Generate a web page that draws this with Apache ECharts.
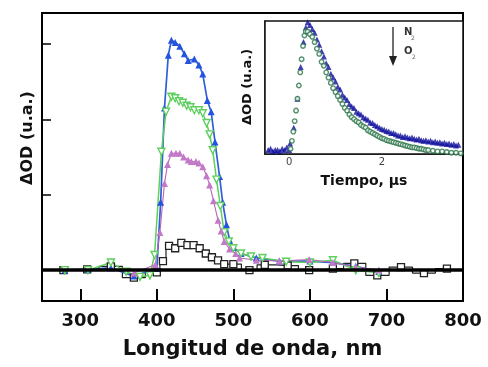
<!DOCTYPE html>
<html><head><meta charset="utf-8">
<script src="https://cdn.jsdelivr.net/npm/echarts@6/dist/echarts.min.js"></script>
<style>html,body{margin:0;padding:0;background:#fff}#c{width:488px;height:367px}</style>
</head><body><div id="c"></div>
<script>
// ---- main spectrum data (wavelength nm, ΔOD a.u.) ----
const xTickLabels = [300, 400, 500, 600, 700, 800];
const xTickMarks = [300, 400, 500, 600, 700];
const yTickMarks = [0, 1, 2, 3];
const blackSquares = [[278,0.0],[309,0.01],[340,0.05],[370,-0.1],[400,-0.03],[408,0.12],[416,0.32],[424,0.29],[432,0.36],[440,0.33],[448,0.33],[456,0.29],[464,0.22],[472,0.17],[480,0.13],[488,0.08],[500,0.08],[521,0.0],[541,0.07],[571,0.06],[599,0.0],[630,0.02],[658,0.09],[688,-0.07],[719,0.04],[749,-0.04],[779,0.02]];
const blueTri = [[280,0.0],[310,0.01],[340,0.03],[370,-0.08],[400,0.02],[405,0.9],[410,2.15],[415,2.85],[419,3.05],[424,3.02],[430,2.97],[436,2.87],[441,2.78],[449,2.8],[455,2.72],[460,2.6],[466,2.25],[471,2.1],[476,1.7],[482,1.24],[486,0.9],[491,0.6],[495,0.4],[500,0.3],[510,0.22],[530,0.16],[560,0.12],[600,0.12],[630,0.1],[660,0.05],[690,-0.02]];
const greenInvTri = [[280,0.0],[310,0.0],[340,0.1],[360,-0.02],[378,-0.09],[391,-0.07],[397,0.2],[406,1.57],[412,2.1],[419,2.3],[424,2.28],[429,2.24],[434,2.22],[439,2.18],[444,2.16],[449,2.12],[455,2.12],[460,2.08],[465,1.95],[469,1.8],[473,1.59],[478,1.2],[483,0.85],[488,0.5],[494,0.38],[500,0.29],[510,0.22],[523,0.18],[538,0.16],[569,0.11],[600,0.1],[630,0.13],[660,0.0],[690,-0.04]];
const purpleTri = [[370,-0.04],[398,0.07],[404,0.5],[410,1.15],[414,1.4],[419,1.55],[425,1.55],[430,1.55],[435,1.5],[441,1.46],[445,1.44],[451,1.44],[455,1.42],[460,1.37],[465,1.25],[469,1.13],[474,0.92],[480,0.66],[484,0.52],[488,0.38],[495,0.28],[503,0.22],[508,0.16],[530,0.13],[560,0.12],[599,0.14],[630,0.1],[660,0.04],[690,0.0]];

// ---- inset kinetics data (time µs, ΔOD a.u.) ----
const insetXTicks = [0, 2];
const insetYTicks = [0.5];
const kineticN2 = [[-0.45,0.03],[-0.4,0.04],[-0.35,0.02],[-0.3,0.03],[-0.25,0.03],[-0.2,0.02],[-0.15,0.04],[-0.1,0.03],[-0.05,0.05],[0,0.03],[0.02,0.08],[0.1,0.2],[0.18,0.42],[0.25,0.66],[0.31,0.85],[0.36,0.96],[0.4,1.0],
[0.45,0.98],[0.5,0.95],[0.55,0.92],[0.6,0.87],[0.65,0.83],[0.7,0.78],[0.75,0.74],[0.8,0.69],[0.85,0.66],[0.9,0.61],[0.95,0.58],[1.0,0.55],[1.05,0.51],[1.1,0.49],[1.15,0.45],[1.2,0.43],[1.25,0.41],[1.3,0.38],[1.35,0.36],[1.4,0.35],[1.45,0.32],[1.5,0.31],[1.55,0.3],[1.6,0.28],[1.65,0.27],[1.7,0.26],[1.75,0.24],[1.8,0.235],[1.85,0.22],[1.9,0.21],[1.95,0.2],[2.0,0.19],[2.05,0.185],[2.1,0.175],[2.15,0.17],[2.2,0.16],[2.25,0.16],[2.3,0.15],[2.35,0.14],[2.4,0.14],[2.45,0.13],[2.5,0.135],[2.55,0.125],[2.6,0.12],[2.65,0.125],[2.7,0.115],[2.75,0.11],[2.8,0.115],[2.85,0.105],[2.9,0.1],[2.95,0.105],[3.0,0.095],[3.05,0.1],[3.1,0.09],[3.15,0.095],[3.2,0.085],[3.25,0.09],[3.3,0.08],[3.35,0.085],[3.4,0.075],[3.45,0.08],[3.5,0.07],[3.55,0.075],[3.6,0.065],[3.65,0.07]];
const kineticO2 = [[0.03,0.04],[0.06,0.1],[0.09,0.17],[0.12,0.25],[0.15,0.33],[0.18,0.42],[0.21,0.52],[0.24,0.62],[0.27,0.72],[0.3,0.82],[0.33,0.9],[0.36,0.93],
[0.4,0.93],[0.45,0.91],[0.5,0.89],[0.55,0.85],[0.6,0.8],[0.65,0.76],[0.7,0.7],[0.75,0.67],[0.8,0.62],[0.85,0.58],[0.9,0.54],[0.95,0.5],[1.0,0.47],[1.05,0.44],[1.1,0.41],[1.15,0.38],[1.2,0.35],[1.25,0.33],[1.3,0.3],[1.35,0.28],[1.4,0.265],[1.45,0.25],[1.5,0.24],[1.55,0.22],[1.6,0.21],[1.65,0.2],[1.7,0.18],[1.75,0.17],[1.8,0.16],[1.85,0.15],[1.9,0.14],[1.95,0.13],[2.0,0.12],[2.05,0.115],[2.1,0.105],[2.15,0.1],[2.2,0.095],[2.25,0.09],[2.3,0.085],[2.35,0.08],[2.4,0.075],[2.45,0.07],[2.5,0.065],[2.55,0.06],[2.6,0.055],[2.65,0.05],[2.7,0.05],[2.75,0.045],[2.8,0.04],[2.85,0.04],[2.9,0.035],[2.95,0.03],[3.0,0.03],[3.1,0.025],[3.2,0.02],[3.3,0.02],[3.4,0.015],[3.5,0.01],[3.6,0.01],[3.7,0.005]];

const yMin = -0.41, yMax = 3.41;
const F = 'DejaVu Sans';
const tickSegments = xTickMarks.map(v => [{coord: [v, yMin]}, {coord: [v, yMin + 0.155]}]);
const chart = echarts.init(document.getElementById('c'), null, {renderer:'canvas'});
chart.setOption({
  animation: false,
  grid: [
    {left: 42, right: 25, top: 13, bottom: 66, show: true, borderColor: '#000', borderWidth: 2, backgroundColor: 'transparent'},
    {left: 265, right: 25, top: 21, bottom: 213, show: true, borderColor: '#111', borderWidth: 1.5, backgroundColor: '#fff', z: 5}
  ],
  xAxis: [
    {type: 'value', gridIndex: 0, position: 'bottom', min: 250, max: 800,
     axisLine: {show: true, onZero: false, lineStyle: {color: '#000', width: 2}},
     axisTick: {show: true, inside: true, length: 12, customValues: xTickMarks, lineStyle: {color: '#000', width: 1.8}},
     axisLabel: {show: true, customValues: xTickLabels, margin: 11, fontSize: 18, fontWeight: 'bold', fontFamily: F, color: '#111'},
     splitLine: {show: false},
     name: 'Longitud de onda, nm', nameLocation: 'middle', nameGap: 38,
     nameTextStyle: {fontSize: 21, fontWeight: 'bold', fontFamily: F, color: '#111'}},
    {type: 'value', gridIndex: 1, position: 'bottom', min: -0.52, max: 3.75,
     axisLine: {show: true, onZero: false, lineStyle: {color: '#111', width: 1.5}},
     axisTick: {show: true, inside: true, length: 5, customValues: insetXTicks, lineStyle: {color: '#111', width: 1}},
     axisLabel: {show: true, customValues: insetXTicks, margin: 3, fontSize: 10, fontFamily: F, color: '#444'},
     splitLine: {show: false},
     name: 'Tiempo, μs', nameLocation: 'middle', nameGap: 20,
     nameTextStyle: {fontSize: 14, fontWeight: 'bold', fontFamily: F, color: '#111'}}
  ],
  yAxis: [
    {type: 'value', gridIndex: 0, position: 'left', min: yMin, max: yMax,
     axisLine: {show: true, onZero: false, lineStyle: {color: '#000', width: 2}},
     axisTick: {show: true, inside: true, length: 9, customValues: yTickMarks, lineStyle: {color: '#000', width: 1.5}},
     axisLabel: {show: false}, splitLine: {show: false}},
    {type: 'value', gridIndex: 1, position: 'left', min: 0, max: 1.01,
     axisLine: {show: true, onZero: false, lineStyle: {color: '#111', width: 1.5}},
     axisTick: {show: true, inside: true, length: 5, customValues: insetYTicks, lineStyle: {color: '#111', width: 1}},
     axisLabel: {show: false}, splitLine: {show: false}}
  ],
  graphic: [
    {type: 'text', x: 28, y: 138, rotation: Math.PI/2, style: {text: 'ΔOD (u.a.)', fontSize: 16, fontWeight: 'bold', fontFamily: F, fill: '#111', align: 'center', verticalAlign: 'middle'}},
    {type: 'text', x: 248, y: 87, rotation: Math.PI/2, z: 10, style: {text: 'ΔOD (u.a.)', fontSize: 13, fontWeight: 'bold', fontFamily: F, fill: '#111', align: 'center', verticalAlign: 'middle'}},
    {type: 'line', z: 10, shape: {x1: 393, y1: 27, x2: 393, y2: 58}, style: {stroke: '#222', lineWidth: 1.3}},
    {type: 'polygon', z: 10, shape: {points: [[389,56],[397,56],[393,66]]}, style: {fill: '#222'}},
    {type: 'text', x: 404, y: 27, z: 10, style: {text: 'N', fontSize: 10, fontWeight: 'bold', fontFamily: F, fill: '#333'}},
    {type: 'text', x: 411, y: 35, z: 10, style: {text: '2', fontSize: 6, fontFamily: F, fill: '#666'}},
    {type: 'text', x: 404, y: 46, z: 10, style: {text: 'O', fontSize: 10, fontWeight: 'bold', fontFamily: F, fill: '#333'}},
    {type: 'text', x: 412, y: 54, z: 10, style: {text: '2', fontSize: 6, fontFamily: F, fill: '#666'}}
  ],
  series: [
    {type: 'line', xAxisIndex: 0, yAxisIndex: 0, data: blackSquares, step: 'middle',
     symbol: 'rect', symbolSize: 7, showAllSymbol: true,
     lineStyle: {color: '#222', width: 1.2}, itemStyle: {color: '#fff', borderColor: '#222', borderWidth: 1.3},
     markLine: {silent: true, symbol: 'none', label: {show: false}, lineStyle: {color: '#000', width: 3.5, type: 'solid'}, data: [{yAxis: 0}]}},
    {type: 'line', xAxisIndex: 0, yAxisIndex: 0, data: blueTri, symbol: 'triangle', symbolSize: 7, showAllSymbol: true,
     lineStyle: {color: '#2f5ed6', width: 1.7}, itemStyle: {color: '#2453e0'},
     markLine: {silent: true, symbol: 'none', label: {show: false}, lineStyle: {color: '#000', width: 1.8, type: 'solid'}, data: tickSegments}},
    {type: 'line', xAxisIndex: 0, yAxisIndex: 0, data: greenInvTri, symbol: 'triangle', symbolRotate: 180, symbolSize: 7, showAllSymbol: true,
     lineStyle: {color: '#5ccf5c', width: 1.5}, itemStyle: {color: '#fff', borderColor: '#5fd05f', borderWidth: 1.4}},
    {type: 'line', xAxisIndex: 0, yAxisIndex: 0, data: purpleTri, symbol: 'triangle', symbolSize: 7, showAllSymbol: true,
     lineStyle: {color: '#b765b7', width: 1.1}, itemStyle: {color: '#c27ac8'}},
    {type: 'scatter', xAxisIndex: 1, yAxisIndex: 1, data: kineticN2, symbol: 'triangle', symbolSize: 6, z: 7,
     itemStyle: {color: '#10109e'}},
    {type: 'scatter', xAxisIndex: 1, yAxisIndex: 1, data: kineticO2, symbol: 'circle', symbolSize: 4.5, z: 8,
     itemStyle: {color: '#fff', borderColor: '#2a7448', borderWidth: 1.4}}
  ]
});
</script></body></html>
